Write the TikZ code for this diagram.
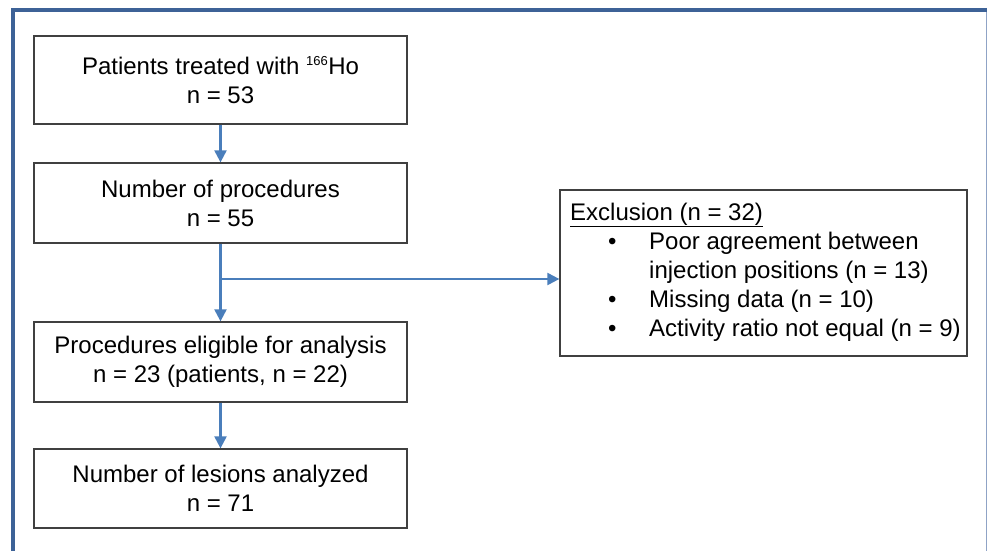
\documentclass[tikz,border=0pt]{standalone}
\usepackage{fontspec}
\setmainfont{Liberation Sans}
\usetikzlibrary{arrows.meta,calc}
\definecolor{arrowblue}{HTML}{4A7EBB}
\definecolor{framedark}{HTML}{3D6297}
\definecolor{framelight}{HTML}{8FA3C6}
\definecolor{boxgray}{HTML}{404040}
\begin{document}
\begin{tikzpicture}[x=1pt,y=-1pt,
  flowbox/.style={draw=boxgray,line width=1.3pt,rectangle,inner sep=0pt,
    minimum width=373pt,align=center,font=\fontsize{24}{29}\selectfont},
  conn/.style={draw=arrowblue,line width=2.2pt,-{Triangle[length=12pt,width=12pt]}},
  ltext/.style={anchor=base west,inner sep=0pt,font=\fontsize{24}{29}\selectfont}]
\useasboundingbox (0,0) rectangle (987,551);
\fill[white] (0,0) rectangle (987,551);
% frame
\draw[framelight,line width=1pt] (986,8) -- (986,551);
\draw[framedark,line width=4pt] (13,551) -- (13,10) -- (987,10);
% boxes
\node[flowbox,minimum height=88pt] (b1) at (220.5,80) {Patients treated with \textsuperscript{\fontsize{13}{13}\selectfont 166}Ho\\n = 53};
\node[flowbox,minimum height=80pt] (b2) at (220.5,203) {Number of procedures\\n = 55};
\node[flowbox,minimum height=80pt] (b3) at (220.5,362) {Procedures eligible for analysis\\n = 23 (patients, n = 22)};
\node[flowbox,minimum height=79pt] (b4) at (220.5,488.5) {Number of lesions analyzed\\n = 71};
\node[draw=boxgray,line width=1.3pt,rectangle,minimum width=407pt,minimum height=166pt] (excl) at (763.5,273) {};
% exclusion text
\node[ltext] (e0) at (570,220) {\underline{Exclusion (n = 32)}};
\node[ltext] (e1b) at (608,249) {•};
\node[ltext] (e1) at (649,249) {Poor agreement between};
\node[ltext] (e2) at (649,278) {injection positions (n = 13)};
\node[ltext] (e3b) at (608,307) {•};
\node[ltext] (e3) at (649,307) {Missing data (n = 10)};
\node[ltext] (e4b) at (608,336) {•};
\node[ltext] (e4) at (649,336) {Activity ratio not equal (n = 9)};
% connectors
\coordinate (br) at (220.5,279);
\draw[conn] (b1.south) -- (b2.north);
\draw[conn] (b2.south) -- (b3.north);
\draw[conn] (br) -- (br -| excl.west);
\draw[conn] (b3.south) -- (b4.north);
\end{tikzpicture}
\end{document}
